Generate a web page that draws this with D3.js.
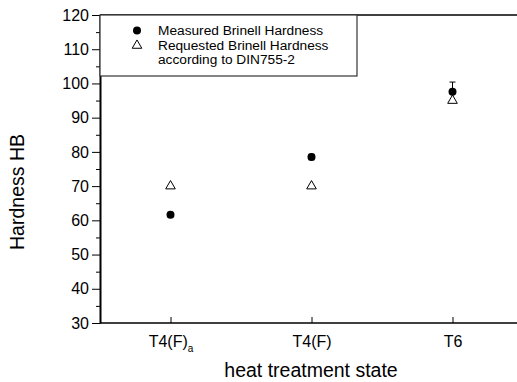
<!DOCTYPE html>
<html>
<head>
<meta charset="utf-8">
<script src="https://cdn.jsdelivr.net/npm/d3@7"></script>
<style>
  body { margin: 0; background: #fff; }
  text { font-family: "Liberation Sans", Arial, sans-serif; fill: #000; }
</style>
</head>
<body>
<div id="chart"></div>
<script>
// data
const states = ["T4(F)a", "T4(F)", "T6"];
const measured = [61.6, 78.5, 97.6];
const measuredErr = [0.6, 0.8, 2.8];
const requested = [70, 70, 95];
const yTicks = [30, 40, 50, 60, 70, 80, 90, 100, 110, 120];

const width = 517;
const height = 382;
const margin = { top: 15, left: 100, bottom: 59 };

const svg = d3.select("#chart").append("svg")
  .attr("width", width)
  .attr("height", height);

const x = d3.scaleLinear().domain([0.5, 3.5]).range([margin.left, margin.left + 423]);
const y = d3.scaleLinear().domain([30, 120]).range([height - margin.bottom, margin.top]);

// top frame line
svg.append("line")
  .attr("x1", margin.left).attr("x2", width)
  .attr("y1", y(120)).attr("y2", y(120))
  .attr("stroke", "#000").attr("stroke-width", 1.5);

// y axis with minor ticks
const yAxis = svg.append("g")
  .attr("transform", `translate(${margin.left},0)`)
  .call(d3.axisLeft(y).tickValues(yTicks).tickSize(8).tickPadding(3).tickSizeOuter(0));
svg.append("g")
  .attr("transform", `translate(${margin.left},0)`)
  .call(d3.axisLeft(y).tickValues(d3.range(35, 120, 10)).tickSize(4).tickFormat("").tickSizeOuter(0))
  .select(".domain").remove();
yAxis.select(".domain").attr("stroke-width", 2);
yAxis.selectAll("text").style("font-size", "16px");

// x axis, ticks inward
const xAxis = svg.append("g")
  .attr("transform", `translate(0,${y(30)})`)
  .call(d3.axisBottom(x).tickValues([1, 2, 3]).tickSize(-6).tickSizeOuter(0).tickFormat(""));
xAxis.select(".domain").attr("d", `M${margin.left},0H${width}`).attr("stroke-width", 1.5);
xAxis.selectAll(".tick").each(function (d, i) {
  const t = d3.select(this).append("text")
    .attr("y", 24)
    .attr("text-anchor", "middle")
    .style("font-size", "16px");
  const label = states[i];
  if (label.endsWith("a") && label.length > 2) {
    t.append("tspan").text(label.slice(0, -1));
    t.append("tspan").attr("dy", 5).style("font-size", "10px").text("a");
  } else {
    t.text(label);
  }
});

// axis titles
svg.append("text")
  .attr("transform", "translate(24,192) rotate(-90)")
  .attr("text-anchor", "middle")
  .style("font-size", "19.5px")
  .text("Hardness HB");
svg.append("text")
  .attr("x", 311).attr("y", 377)
  .attr("text-anchor", "middle")
  .style("font-size", "19.5px")
  .text("heat treatment state");

// error bars
const eb = svg.append("g");
states.forEach((s, i) => {
  const cx = x(i + 1);
  const top = y(measured[i] + measuredErr[i]);
  const bot = y(measured[i] - measuredErr[i]);
  eb.append("line").attr("x1", cx).attr("x2", cx).attr("y1", top).attr("y2", bot)
    .attr("stroke", "#000").attr("stroke-width", 1);
  [top, bot].forEach(v => eb.append("line")
    .attr("x1", cx - 3).attr("x2", cx + 3).attr("y1", v).attr("y2", v)
    .attr("stroke", "#000").attr("stroke-width", 1));
});

// requested (open triangles)
svg.append("g").selectAll("path")
  .data(requested)
  .join("path")
  .attr("transform", (d, i) => `translate(${x(i + 1)},${y(d)})`)
  .attr("d", d3.symbol(d3.symbolTriangle, 40))
  .attr("fill", "#fff")
  .attr("stroke", "#000")
  .attr("stroke-width", 1);

// measured (filled circles)
svg.append("g").selectAll("circle")
  .data(measured)
  .join("circle")
  .attr("cx", (d, i) => x(i + 1))
  .attr("cy", d => y(d))
  .attr("r", 4)
  .attr("fill", "#000");

// legend
const lg = svg.append("g");
lg.append("rect")
  .attr("x", margin.left).attr("y", y(120))
  .attr("width", 257).attr("height", 61)
  .attr("fill", "#fff").attr("stroke", "#333").attr("stroke-width", 1.2);
lg.append("circle").attr("cx", 137).attr("cy", 30.5).attr("r", 4).attr("fill", "#000");
lg.append("path").attr("transform", "translate(137,45.5)")
  .attr("d", d3.symbol(d3.symbolTriangle, 40))
  .attr("fill", "#fff").attr("stroke", "#000");
const legendLines = ["Measured Brinell Hardness", "Requested Brinell Hardness", "according to DIN755-2"];
lg.selectAll("text.lbl")
  .data(legendLines)
  .join("text")
  .attr("class", "lbl")
  .attr("x", 158)
  .attr("y", (d, i) => 35 + i * 14.5)
  .style("font-size", "13.7px")
  .text(d => d);
</script>
</body>
</html>
